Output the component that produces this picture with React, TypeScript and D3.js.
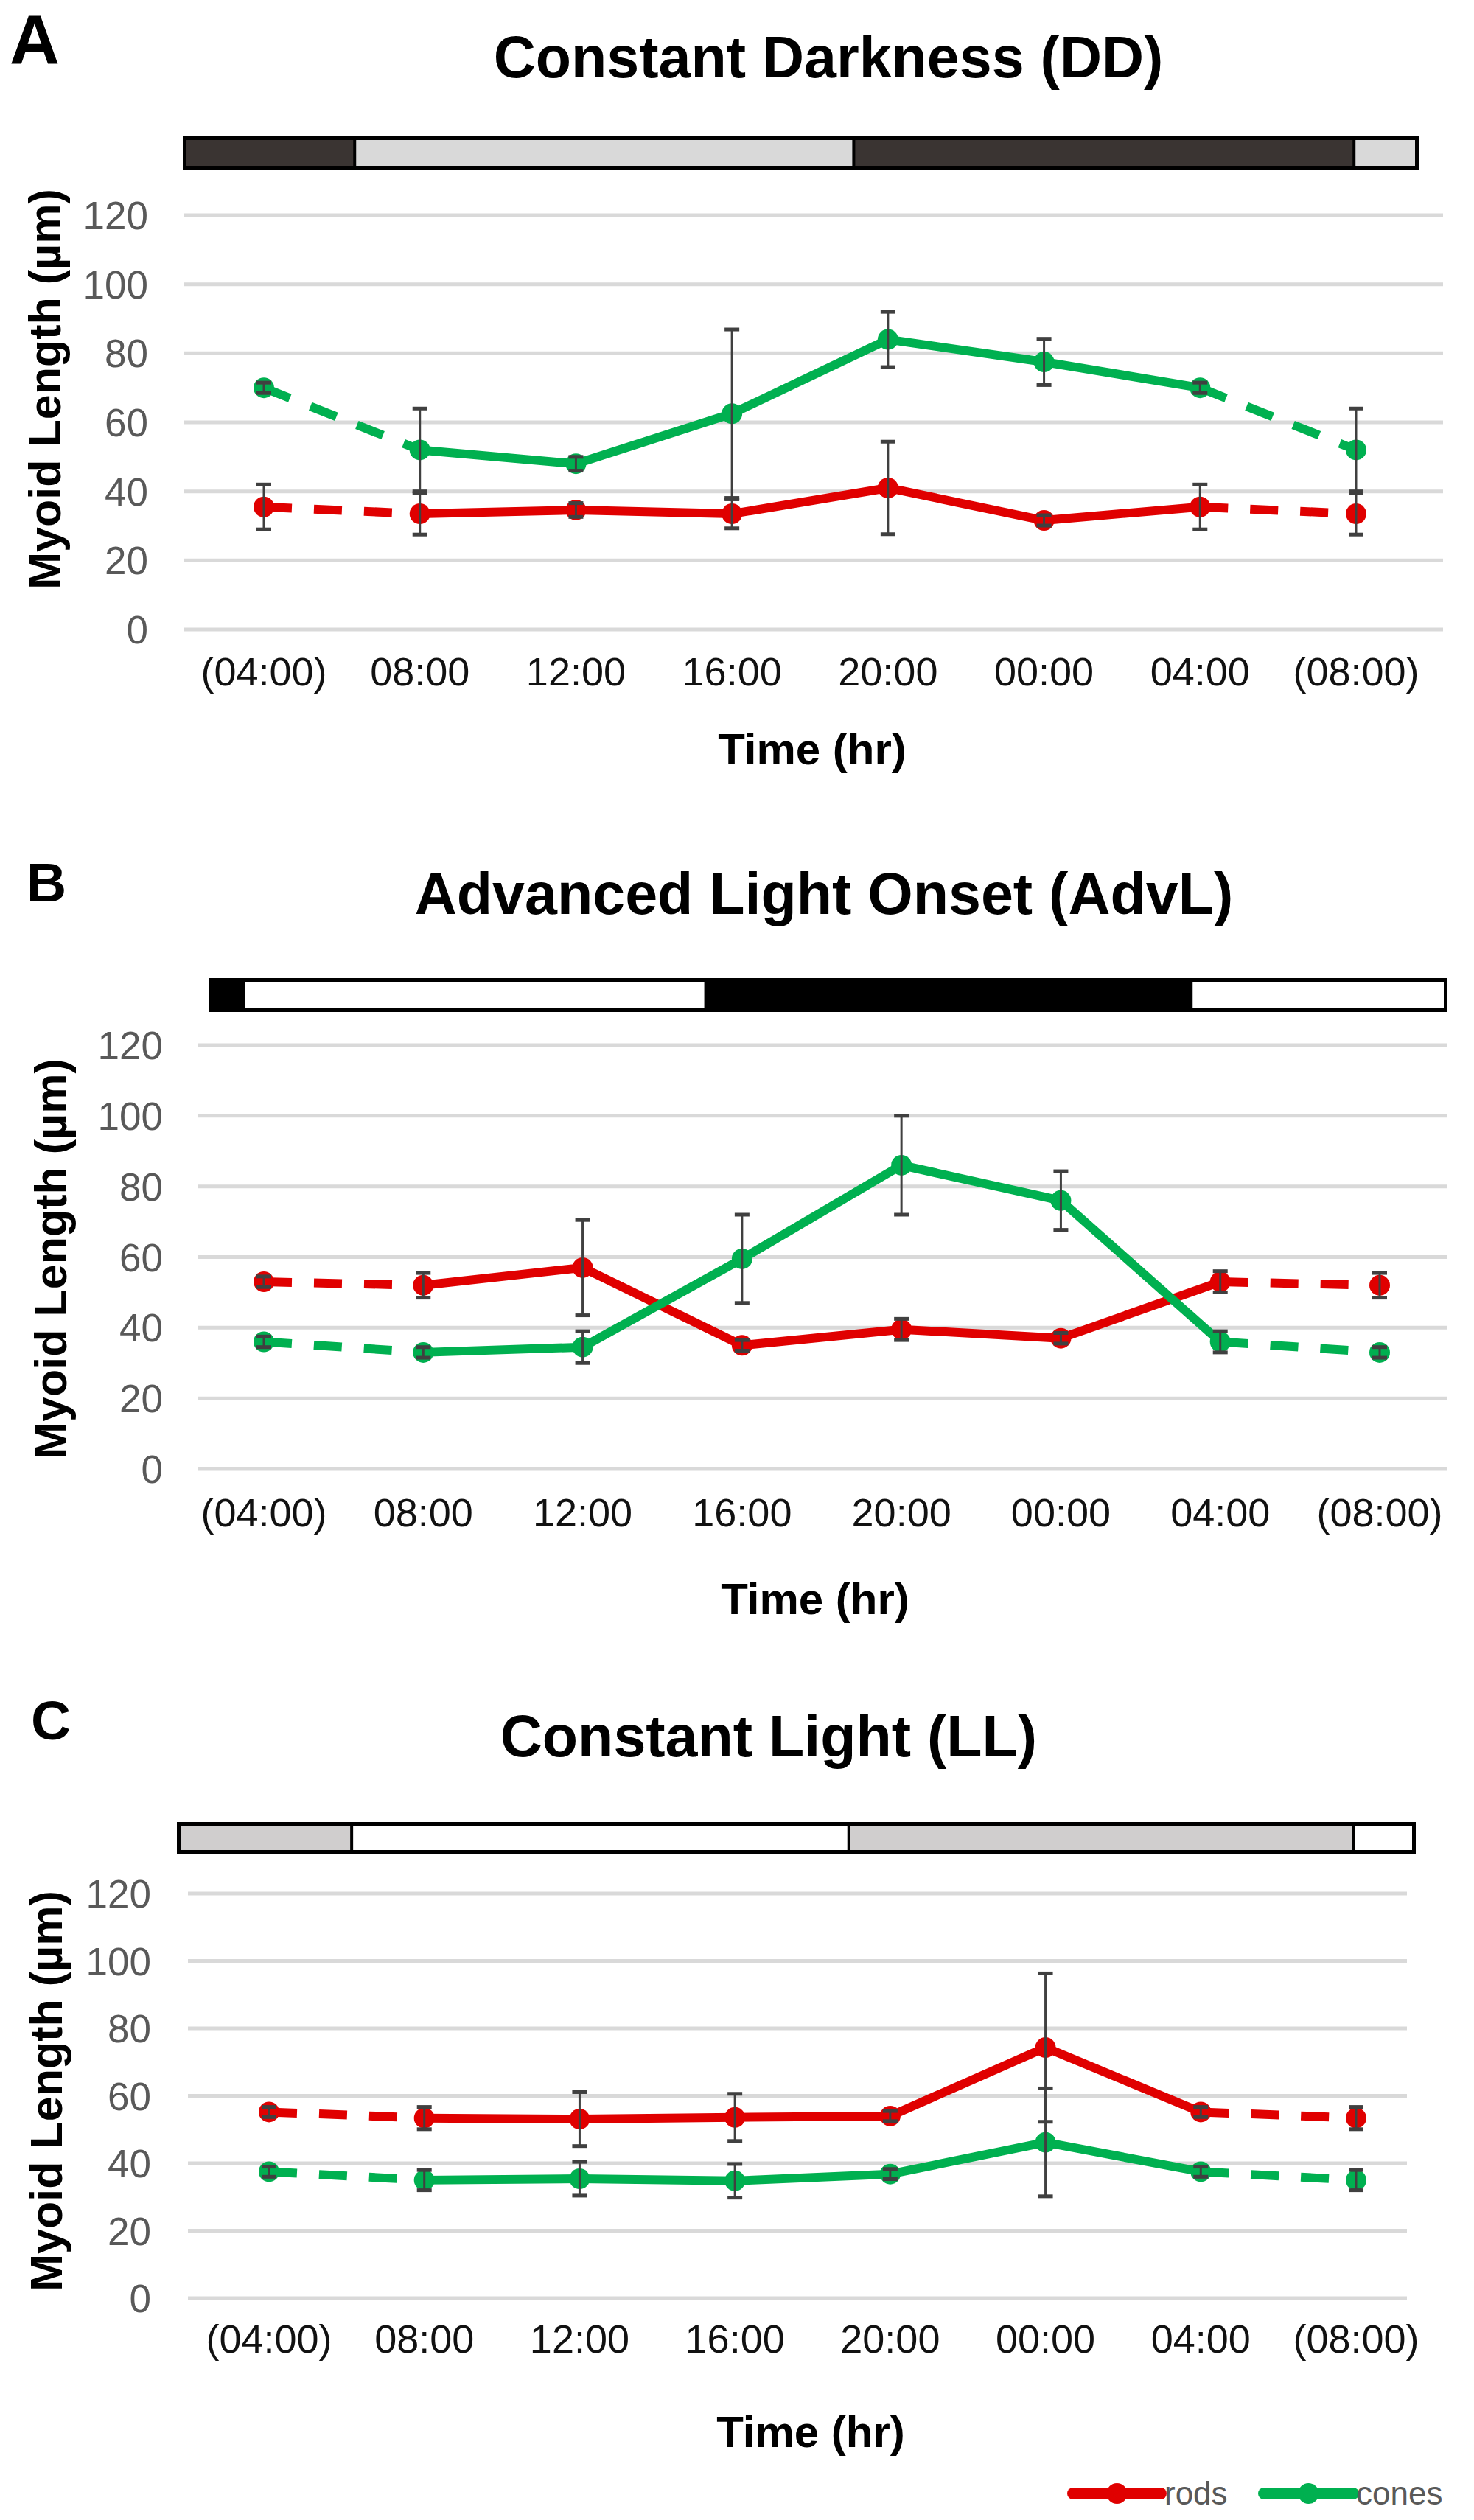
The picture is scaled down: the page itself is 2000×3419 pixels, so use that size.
import React from "react";
import * as d3 from "d3";

// ---------- data ----------
const TIMES = ["(04:00)", "08:00", "12:00", "16:00", "20:00", "00:00", "04:00", "(08:00)"];
const Y_TICKS = [0, 20, 40, 60, 80, 100, 120];
const SERIES = ["rods", "cones"];

// Panel A: Constant Darkness (DD)
const DD_RODS = [35.5, 33.5, 34.6, 33.5, 41, 31.6, 35.5, 33.5];
const DD_RODS_ERR = [6.5, 6, 2, 4.2, 13.4, 1.5, 6.5, 6];
const DD_CONES = [70, 52, 48, 62.5, 84, 77.5, 70, 52];
const DD_CONES_ERR = [1.5, 12, 2, 24.4, 8, 6.7, 1.5, 12];
const DD_BAR_EDGES = [0, 0.138, 0.543, 0.949, 1];

// Panel B: Advanced Light Onset (AdvL)
const ADV_RODS = [53, 52, 57, 35, 39.5, 37, 53, 52];
const ADV_RODS_ERR = [1.5, 3.5, 13.5, 1.5, 3, 1.5, 3, 3.5];
const ADV_CONES = [36, 33, 34.5, 59.5, 86, 76, 36, 33];
const ADV_CONES_ERR = [1.5, 1.5, 4.5, 12.5, 14, 8.3, 3, 1.5];
const ADV_BAR_EDGES = [0, 0.027, 0.401, 0.794, 1];

// Panel C: Constant Light (LL)
const LL_RODS = [55.2, 53.4, 53.1, 53.6, 54, 74.3, 55.2, 53.4];
const LL_RODS_ERR = [1.5, 3.3, 8, 7, 1.5, 22, 1.5, 3.3];
const LL_CONES = [37.5, 35, 35.4, 34.8, 36.8, 46.2, 37.5, 35];
const LL_CONES_ERR = [1.5, 3, 5, 5, 1.5, 16, 1.5, 3];
const LL_BAR_EDGES = [0, 0.14, 0.5425, 0.951, 1];

// ---------- styles ----------
const FONT = "'Liberation Sans', Arial, Helvetica, sans-serif";
const RED = "#e00000";
const GREEN = "#00b050";
const GRID = "#d9d9d9";
const TICK_GREY = "#595959";
const ERR = "#404040";

type Layout = {
  letter: string; letterX: number; letterY: number; letterSize: number;
  title: string; titleX: number; titleY: number;
  barX0: number; barX1: number; barY0: number; barY1: number; barFills: string[]; barEdges: number[];
  gridX0: number; gridX1: number; y0: number; y120: number; tickRight: number;
  xRange: [number, number]; xLabelY: number; xTitleX: number; xTitleY: number;
  yTitleX: number; yTitleY: number;
  rods: number[]; rodsErr: number[]; cones: number[]; conesErr: number[];
};

const PANELS: Layout[] = [
  {
    letter: "A", letterX: 13, letterY: 87, letterSize: 94,
    title: "Constant Darkness (DD)", titleX: 1124, titleY: 105,
    barX0: 248, barX1: 1925, barY0: 185, barY1: 230,
    barFills: ["#3a3432", "#d9d9d9", "#3a3432", "#d9d9d9"], barEdges: DD_BAR_EDGES,
    gridX0: 250, gridX1: 1958, y0: 854, y120: 292, tickRight: 201,
    xRange: [358, 1840], xLabelY: 930, xTitleX: 1102, xTitleY: 1037,
    yTitleX: 60, yTitleY: 528,
    rods: DD_RODS, rodsErr: DD_RODS_ERR, cones: DD_CONES, conesErr: DD_CONES_ERR,
  },
  {
    letter: "B", letterX: 36, letterY: 1223, letterSize: 75,
    title: "Advanced Light Onset (AdvL)", titleX: 1118, titleY: 1240,
    barX0: 283, barX1: 1964, barY0: 1327, barY1: 1373,
    barFills: ["#000000", "#ffffff", "#000000", "#ffffff"], barEdges: ADV_BAR_EDGES,
    gridX0: 268, gridX1: 1964, y0: 1993, y120: 1418, tickRight: 221,
    xRange: [358, 1872], xLabelY: 2071, xTitleX: 1106, xTitleY: 2190,
    yTitleX: 68, yTitleY: 1708,
    rods: ADV_RODS, rodsErr: ADV_RODS_ERR, cones: ADV_CONES, conesErr: ADV_CONES_ERR,
  },
  {
    letter: "C", letterX: 42, letterY: 2360, letterSize: 75,
    title: "Constant Light (LL)", titleX: 1043, titleY: 2383,
    barX0: 240, barX1: 1921, barY0: 2472, barY1: 2515,
    barFills: ["#d0cece", "#ffffff", "#d0cece", "#ffffff"], barEdges: LL_BAR_EDGES,
    gridX0: 255, gridX1: 1909, y0: 3118, y120: 2569, tickRight: 205,
    xRange: [365, 1840], xLabelY: 3192, xTitleX: 1100, xTitleY: 3320,
    yTitleX: 62, yTitleY: 2837,
    rods: LL_RODS, rodsErr: LL_RODS_ERR, cones: LL_CONES, conesErr: LL_CONES_ERR,
  },
];

const LINE_W = 12;
const MARKER_R = 14;
const DASH = "38 30";

function Series({ values, color, x, y }: { values: number[]; color: string; x: d3.ScalePoint<string>; y: d3.ScaleLinear<number, number> }) {
  const pts = values.map((v, i) => [x(TIMES[i]) as number, y(v)] as [number, number]);
  const line = d3.line<[number, number]>().x((d) => d[0]).y((d) => d[1]);
  const n = pts.length;
  return (
    <g>
      <path d={line(pts.slice(0, 2)) || ""} fill="none" stroke={color} strokeWidth={LINE_W} strokeDasharray={DASH} />
      <path d={line(pts.slice(n - 2)) || ""} fill="none" stroke={color} strokeWidth={LINE_W} strokeDasharray={DASH} />
      <path d={line(pts.slice(1, n - 1)) || ""} fill="none" stroke={color} strokeWidth={LINE_W} strokeLinejoin="round" />
      {pts.map((p, i) => (
        <circle key={i} cx={p[0]} cy={p[1]} r={MARKER_R} fill={color} />
      ))}
    </g>
  );
}

function ErrorBars({ values, errs, x, y }: { values: number[]; errs: number[]; x: d3.ScalePoint<string>; y: d3.ScaleLinear<number, number> }) {
  return (
    <g stroke={ERR} strokeWidth={3}>
      {values.map((v, i) => {
        const cx = x(TIMES[i]) as number;
        const hi = y(v + errs[i]);
        const lo = y(v - errs[i]);
        return (
          <g key={i}>
            <line x1={cx} x2={cx} y1={hi} y2={lo} />
            <line x1={cx - 10} x2={cx + 10} y1={hi} y2={hi} strokeWidth={5} />
            <line x1={cx - 10} x2={cx + 10} y1={lo} y2={lo} strokeWidth={5} />
          </g>
        );
      })}
    </g>
  );
}

function Panel({ p }: { p: Layout }) {
  const x = d3.scalePoint<string>().domain(TIMES).range(p.xRange).padding(0);
  const y = d3.scaleLinear().domain([0, 120]).range([p.y0, p.y120]);
  const bx = d3.scaleLinear().domain([0, 1]).range([p.barX0 + 2.5, p.barX1 - 2.5]);
  const barH = p.barY1 - p.barY0 - 5;
  const barTop = p.barY0 + 2.5;
  return (
    <g>
      <text x={p.letterX} y={p.letterY} fontSize={p.letterSize} fontWeight="bold" fontFamily={FONT} fill="#000">{p.letter}</text>
      <text x={p.titleX} y={p.titleY} fontSize={79} fontWeight="bold" fontFamily={FONT} textAnchor="middle" fill="#000">{p.title}</text>
      {/* light/dark bar */}
      <g>
        {p.barFills.map((f, i) => (
          <rect key={i} x={bx(p.barEdges[i])} y={barTop} width={bx(p.barEdges[i + 1]) - bx(p.barEdges[i])} height={barH} fill={f} />
        ))}
        {p.barEdges.slice(1, -1).map((e, i) => (
          <line key={i} x1={bx(e)} x2={bx(e)} y1={barTop} y2={barTop + barH} stroke="#000" strokeWidth={4} />
        ))}
        <rect x={bx(0)} y={barTop} width={bx(1) - bx(0)} height={barH} fill="none" stroke="#000" strokeWidth={5} />
      </g>
      {/* grid */}
      {Y_TICKS.map((t) => (
        <g key={t}>
          <line x1={p.gridX0} x2={p.gridX1} y1={y(t)} y2={y(t)} stroke={GRID} strokeWidth={5} />
          <text x={p.tickRight} y={y(t)} dy="0.36em" textAnchor="end" fontSize={53} fontFamily={FONT} fill={TICK_GREY}>{t}</text>
        </g>
      ))}
      {TIMES.map((t) => (
        <text key={t} x={x(t)} y={p.xLabelY} textAnchor="middle" fontSize={54} fontFamily={FONT} fill="#111">{t}</text>
      ))}
      <text x={p.xTitleX} y={p.xTitleY} textAnchor="middle" fontSize={60} fontWeight="bold" fontFamily={FONT} fill="#000">Time (hr)</text>
      <text transform={`translate(${p.yTitleX},${p.yTitleY}) rotate(-90)`} dy="0.36em" textAnchor="middle" fontSize={61} fontWeight="bold" fontFamily={FONT} fill="#000">Myoid Length (µm)</text>
      <Series values={p.rods} color={RED} x={x} y={y} />
      <Series values={p.cones} color={GREEN} x={x} y={y} />
      <ErrorBars values={p.rods} errs={p.rodsErr} x={x} y={y} />
      <ErrorBars values={p.cones} errs={p.conesErr} x={x} y={y} />
    </g>
  );
}

function Legend() {
  const items = [
    { name: SERIES[0], color: RED, x0: 1456, x1: 1575, tx: 1580 },
    { name: SERIES[1], color: GREEN, x0: 1715, x1: 1836, tx: 1840 },
  ];
  const ly = 3383;
  return (
    <g>
      {items.map((it) => (
        <g key={it.name}>
          <line x1={it.x0} x2={it.x1} y1={ly} y2={ly} stroke={it.color} strokeWidth={16} strokeLinecap="round" />
          <circle cx={(it.x0 + it.x1) / 2} cy={ly} r={14} fill={it.color} />
          <text x={it.tx} y={ly + 15} fontSize={44} fontFamily={FONT} fill={TICK_GREY}>{it.name}</text>
        </g>
      ))}
    </g>
  );
}

export default function App() {
  return (
    <svg width={2000} height={3419} viewBox="0 0 2000 3419" style={{ position: "absolute", left: 0, top: 0, background: "#fff" }}>
      <rect x={0} y={0} width={2000} height={3419} fill="#fff" />
      {PANELS.map((p) => (
        <Panel key={p.letter} p={p} />
      ))}
      <Legend />
    </svg>
  );
}
